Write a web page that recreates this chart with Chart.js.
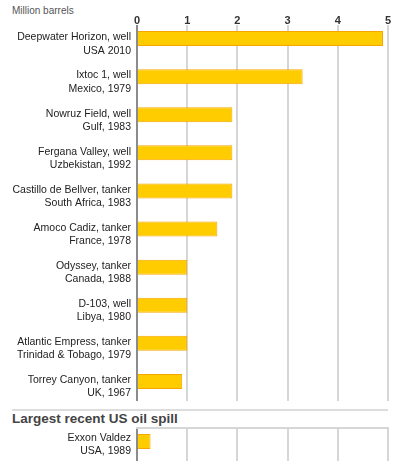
<!DOCTYPE html>
<html>
<head>
<meta charset="utf-8">
<script src="https://cdn.jsdelivr.net/npm/chart.js@4"></script>
<style>
  html, body { margin: 0; padding: 0; background: #fff; overflow: hidden; }
  body { width: 397px; height: 461px; position: relative; font-family: Helvetica, Arial, "Liberation Sans", sans-serif; }
  #unit { position: absolute; left: 12px; top: 5px; font-size: 10px; color: #555; }
  #top-clip { position: absolute; left: 0; top: 0; width: 397px; height: 401px; overflow: hidden; }
  #top-wrap { position: relative; width: 397px; height: 406px; }
  #sep { position: absolute; left: 12px; top: 409px; width: 376px; height: 2px; background: #ddd; }
  #title { position: absolute; left: 12px; top: 411px; font-size: 13.5px; font-weight: bold; color: #444; }
  #bottom-wrap { position: absolute; left: 0; top: 426px; width: 397px; height: 40px; }
</style>
</head>
<body>
<div id="unit">Million barrels</div>
<div id="top-clip"><div id="top-wrap"><canvas id="topChart"></canvas></div></div>
<div id="sep"></div>
<div id="title">Largest recent US oil spill</div>
<div id="bottom-wrap"><canvas id="bottomChart"></canvas></div>

<script>
// Largest oil spills, million barrels
const spillLabels = [
  ['Deepwater Horizon, well', 'USA 2010'],
  ['Ixtoc 1, well', 'Mexico, 1979'],
  ['Nowruz Field, well', 'Gulf, 1983'],
  ['Fergana Valley, well', 'Uzbekistan, 1992'],
  ['Castillo de Bellver, tanker', 'South Africa, 1983'],
  ['Amoco Cadiz, tanker', 'France, 1978'],
  ['Odyssey, tanker', 'Canada, 1988'],
  ['D-103, well', 'Libya, 1980'],
  ['Atlantic Empress, tanker', 'Trinidad & Tobago, 1979'],
  ['Torrey Canyon, tanker', 'UK, 1967'],
];
const spillValues = [4.9, 3.3, 1.9, 1.9, 1.9, 1.6, 1.0, 1.0, 1.0, 0.9];

const usLabels = [['Exxon Valdez', 'USA, 1989']];
const usValues = [0.27];

const xMin = 0;
const xMax = 5;

const fontFamily = 'Helvetica, Arial, "Liberation Sans", sans-serif';
const barFill = '#ffcc00';
const barEdge = '#f7a600';
const gridColor = '#d6d6d6';
const axisColor = '#8c8c8c';

Chart.defaults.font.family = fontFamily;
Chart.defaults.animation = false;

const makeOptions = (showTicks, labelOffset) => ({
  indexAxis: 'y',
  responsive: true,
  maintainAspectRatio: false,
  layout: { padding: { left: 0, right: 9, top: showTicks ? 0 : 2, bottom: 0 } },
  plugins: { legend: { display: false }, tooltip: { enabled: false } },
  // bar sits in the upper part of each row, level with the first label line
  datasets: { bar: { categoryPercentage: 0.577, barPercentage: 1.364 } },
  scales: {
    x: {
      position: 'top',
      min: xMin,
      max: xMax,
      afterFit: showTicks ? (scale) => { scale.height = 25; } : undefined,
      grid: {
        display: true,
        drawTicks: false,
        drawOnChartArea: true,
        lineWidth: 2,
        color: (ctx) => (ctx.tick && ctx.tick.value === 0 ? axisColor : gridColor),
      },
      border: { display: !showTicks, color: gridColor, width: 2 },
      ticks: {
        display: showTicks,
        stepSize: 1,
        padding: -3,
        color: '#333',
        font: { size: 11, weight: 'bold' },
      },
    },
    y: {
      // fixed label column, and no extra room above/below for the two-line labels
      afterFit: (scale) => {
        scale.width = 137;
        scale.paddingTop = 0;
        scale.paddingBottom = 0;
      },
      grid: { display: false, drawTicks: false },
      border: { display: false },
      ticks: {
        padding: 6,
        color: '#222',
        font: { size: 10.5, lineHeight: 1.25 },
        labelOffset: labelOffset,
      },
    },
  },
});

const makeData = (labels, values) => ({
  labels: labels,
  datasets: [
    {
      data: values,
      backgroundColor: barFill,
      borderColor: barEdge,
      borderWidth: 1,
    },
    {
      data: values.map(() => null),
      backgroundColor: 'transparent',
    },
  ],
});

new Chart(document.getElementById('topChart'), {
  type: 'bar',
  data: makeData(spillLabels, spillValues),
  options: makeOptions(true, 0),
});

new Chart(document.getElementById('bottomChart'), {
  type: 'bar',
  data: makeData(usLabels, usValues),
  options: makeOptions(false, -2),
});
</script>
</body>
</html>
